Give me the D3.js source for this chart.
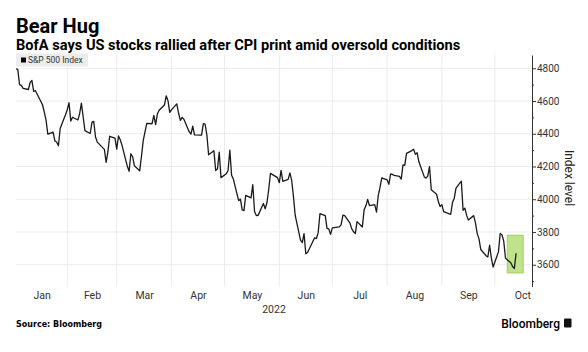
<!DOCTYPE html>
<html>
<head>
<meta charset="utf-8">
<script src="https://cdn.jsdelivr.net/npm/d3@7"></script>
<style>
  body { margin: 0; background: #fff; }
  svg { display: block; font-family: Roboto, "Open Sans", sans-serif; }
</style>
</head>
<body>
<div id="chart"></div>
<script>
// S&P 500 daily closes, 2022
const dates = [
  "2022-01-03","2022-01-04","2022-01-05","2022-01-06","2022-01-07","2022-01-10","2022-01-11","2022-01-12","2022-01-13","2022-01-14",
  "2022-01-18","2022-01-19","2022-01-20","2022-01-21","2022-01-24","2022-01-25","2022-01-26","2022-01-27","2022-01-28","2022-01-31",
  "2022-02-01","2022-02-02","2022-02-03","2022-02-04","2022-02-07","2022-02-08","2022-02-09","2022-02-10","2022-02-11","2022-02-14",
  "2022-02-15","2022-02-16","2022-02-17","2022-02-18","2022-02-22","2022-02-23","2022-02-24","2022-02-25","2022-02-28",
  "2022-03-01","2022-03-02","2022-03-03","2022-03-04","2022-03-07","2022-03-08","2022-03-09","2022-03-10","2022-03-11","2022-03-14",
  "2022-03-15","2022-03-16","2022-03-17","2022-03-18","2022-03-21","2022-03-22","2022-03-23","2022-03-24","2022-03-25","2022-03-28",
  "2022-03-29","2022-03-30","2022-03-31",
  "2022-04-01","2022-04-04","2022-04-05","2022-04-06","2022-04-07","2022-04-08","2022-04-11","2022-04-12","2022-04-13","2022-04-14",
  "2022-04-18","2022-04-19","2022-04-20","2022-04-21","2022-04-22","2022-04-25","2022-04-26","2022-04-27","2022-04-28","2022-04-29",
  "2022-05-02","2022-05-03","2022-05-04","2022-05-05","2022-05-06","2022-05-09","2022-05-10","2022-05-11","2022-05-12","2022-05-13",
  "2022-05-16","2022-05-17","2022-05-18","2022-05-19","2022-05-20","2022-05-23","2022-05-24","2022-05-25","2022-05-26","2022-05-27",
  "2022-05-31",
  "2022-06-01","2022-06-02","2022-06-03","2022-06-06","2022-06-07","2022-06-08","2022-06-09","2022-06-10","2022-06-13","2022-06-14",
  "2022-06-15","2022-06-16","2022-06-17","2022-06-21","2022-06-22","2022-06-23","2022-06-24","2022-06-27","2022-06-28","2022-06-29",
  "2022-06-30",
  "2022-07-01","2022-07-05","2022-07-06","2022-07-07","2022-07-08","2022-07-11","2022-07-12","2022-07-13","2022-07-14","2022-07-15",
  "2022-07-18","2022-07-19","2022-07-20","2022-07-21","2022-07-22","2022-07-25","2022-07-26","2022-07-27","2022-07-28","2022-07-29",
  "2022-08-01","2022-08-02","2022-08-03","2022-08-04","2022-08-05","2022-08-08","2022-08-09","2022-08-10","2022-08-11","2022-08-12",
  "2022-08-15","2022-08-16","2022-08-17","2022-08-18","2022-08-19","2022-08-22","2022-08-23","2022-08-24","2022-08-25","2022-08-26",
  "2022-08-29","2022-08-30","2022-08-31",
  "2022-09-01","2022-09-02","2022-09-06","2022-09-07","2022-09-08","2022-09-09","2022-09-12","2022-09-13","2022-09-14","2022-09-15",
  "2022-09-16","2022-09-19","2022-09-20","2022-09-21","2022-09-22","2022-09-23","2022-09-26","2022-09-27","2022-09-28","2022-09-29",
  "2022-09-30",
  "2022-10-03","2022-10-04","2022-10-05","2022-10-06","2022-10-07","2022-10-10","2022-10-11","2022-10-12","2022-10-13"
];
const closes = [
  4796.56,4793.54,4700.58,4696.05,4677.03,4670.29,4713.07,4726.35,4659.03,4662.85,
  4577.11,4532.76,4482.73,4397.94,4410.13,4356.45,4349.93,4326.51,4431.85,4515.55,
  4546.54,4589.38,4477.44,4500.53,4483.87,4521.54,4587.18,4504.08,4418.64,4401.67,
  4471.07,4475.01,4380.26,4348.87,4304.76,4225.50,4288.70,4384.65,4373.94,
  4306.26,4386.54,4363.49,4328.87,4201.09,4170.70,4277.88,4259.52,4204.31,4173.11,
  4262.45,4357.86,4411.67,4463.12,4461.18,4511.61,4456.24,4520.16,4543.06,4575.52,
  4631.60,4602.45,4530.41,
  4545.86,4582.64,4525.12,4481.15,4500.21,4488.28,4412.53,4397.45,4446.59,4392.59,
  4391.69,4462.21,4459.45,4393.66,4271.78,4296.12,4175.20,4183.96,4287.50,4131.93,
  4155.38,4175.48,4300.17,4146.87,4123.34,3991.24,4001.05,3935.18,3930.08,4023.89,
  4008.01,4088.85,3923.68,3900.79,3901.36,3973.75,3941.48,3978.73,4057.84,4158.24,
  4132.15,
  4101.23,4176.82,4108.54,4121.43,4160.68,4115.77,4017.82,3900.86,3749.63,3735.48,
  3789.99,3666.77,3674.84,3764.79,3759.89,3795.73,3911.74,3900.11,3821.55,3818.83,
  3785.38,
  3825.33,3831.39,3845.08,3902.62,3899.38,3854.43,3818.80,3801.78,3790.38,3863.16,
  3830.85,3936.69,3959.90,3998.95,3961.63,3966.84,3921.05,4023.61,4072.43,4130.29,
  4118.63,4091.19,4155.17,4151.94,4145.19,4140.06,4122.47,4210.24,4207.27,4280.15,
  4297.14,4305.20,4274.04,4283.74,4228.48,4137.99,4128.73,4140.77,4199.12,4057.66,
  4030.61,3986.16,3955.00,
  3966.85,3924.26,3908.19,3979.87,4006.18,4067.36,4110.41,3932.69,3946.01,3901.35,
  3873.33,3899.89,3855.93,3789.93,3757.99,3693.23,3655.04,3647.29,3719.04,3640.47,
  3585.62,
  3678.43,3790.93,3783.28,3744.52,3639.66,3612.39,3588.84,3577.03,3669.91
];
const yTicks = [3600, 3800, 4000, 4200, 4400, 4600, 4800];
const xDomain = ["2022-01-03", "2022-10-22"];
const yDomain = [3467, 4881];
// highlighted CPI window
const highlightDates = ["2022-10-08", "2022-10-17"];
const highlightLevels = [3550, 3780];

const width = 588, height = 352;
const plot = { left: 16, right: 532, top: 55, bottom: 286.5 };
const parse = d3.utcParse("%Y-%m-%d");
const series = dates.map((d, i) => ({ date: parse(d), value: closes[i] }));

const x = d3.scaleUtc().domain(xDomain.map(parse)).range([plot.left, plot.right]);
const y = d3.scaleLinear().domain(yDomain).range([plot.bottom, plot.top]);

const svg = d3.select("#chart").append("svg")
    .attr("width", width)
    .attr("height", height);

// title + subtitle
svg.append("text")
    .attr("x", 16).attr("y", 33)
    .style("font-size", "20px").style("font-weight", "bold")
    .attr("fill", "#000")
    .text("Bear Hug");
svg.append("text")
    .attr("x", 16).attr("y", 50)
    .style("font-size", "14.6px").style("font-weight", "bold")
    .attr("fill", "#000")
    .text("BofA says US stocks rallied after CPI print amid oversold conditions");

// grid
const monthStarts = d3.utcMonth.range(parse("2022-02-01"), parse("2022-11-01"));
svg.append("g").selectAll("line")
    .data(monthStarts)
    .join("line")
    .attr("x1", d => x(d)).attr("x2", d => x(d))
    .attr("y1", plot.top).attr("y2", plot.bottom)
    .attr("stroke", "#ececec");
svg.append("g").selectAll("line")
    .data(yTicks)
    .join("line")
    .attr("x1", plot.left).attr("x2", plot.right)
    .attr("y1", d => y(d)).attr("y2", d => y(d))
    .attr("stroke", "#ececec");

// highlight box
svg.append("rect")
    .attr("x", x(parse(highlightDates[0])))
    .attr("y", y(highlightLevels[1]))
    .attr("width", x(parse(highlightDates[1])) - x(parse(highlightDates[0])))
    .attr("height", y(highlightLevels[0]) - y(highlightLevels[1]))
    .attr("fill", "#bfe38b")
    .attr("stroke", "#9fcf5e")
    .attr("stroke-width", 1);

// legend
svg.append("rect")
    .attr("x", 16).attr("y", 53.5).attr("width", 72).attr("height", 13)
    .attr("fill", "#ececec");
svg.append("rect")
    .attr("x", 21).attr("y", 57.5).attr("width", 5).attr("height", 5)
    .attr("fill", "#000");
svg.append("text")
    .attr("x", 28).attr("y", 60.3)
    .attr("dominant-baseline", "middle")
    .style("font-size", "8.5px")
    .attr("fill", "#333")
    .text("S&P 500 Index");

// line
const line = d3.line()
    .x(d => x(d.date))
    .y(d => y(d.value));
svg.append("path")
    .datum(series)
    .attr("fill", "none")
    .attr("stroke", "#1a1a1a")
    .attr("stroke-width", 1.3)
    .attr("stroke-linejoin", "round")
    .attr("d", line);

// right axis
const yAxis = svg.append("g")
    .attr("transform", `translate(${plot.right},0)`)
    .call(d3.axisRight(y).tickValues(yTicks).tickSize(4).tickSizeOuter(0).tickPadding(1).tickFormat(d3.format("d")));
yAxis.select(".domain").attr("stroke", "#333");
yAxis.selectAll(".tick line").attr("stroke", "#333");
yAxis.selectAll("text")
    .style("font-size", "10px")
    .style("font-family", "Roboto, sans-serif")
    .attr("fill", "#333");

svg.append("g")
    .attr("transform", `translate(${plot.right},0)`)
    .call(d3.axisRight(y).tickValues(d3.range(3500, 4900, 100).filter(v => !yTicks.includes(v)))
        .tickSize(2).tickFormat(""))
    .call(g => g.select(".domain").remove())
    .selectAll(".tick line").attr("stroke", "#333");

svg.append("text")
    .attr("transform", `translate(565,178) rotate(90)`)
    .attr("text-anchor", "middle")
    .style("font-size", "12px")
    .attr("fill", "#222")
    .text("Index level");

// bottom axis: month names centred in each month
const monthMids = d3.utcMonth.range(parse("2022-01-01"), parse("2022-11-01")).map(m => {
  const s = Math.max(m, x.domain()[0]);
  const e = d3.utcMonth.offset(m, 1);
  return new Date((+s + +e) / 2);
});
const xAxis = svg.append("g")
    .attr("transform", `translate(0,${plot.bottom})`)
    .call(d3.axisBottom(x).tickValues(monthMids).tickSize(0).tickPadding(5).tickFormat(d3.utcFormat("%b")));
xAxis.select(".domain").remove();
xAxis.selectAll("text")
    .style("font-size", "10.5px")
    .style("font-family", "Roboto, sans-serif")
    .attr("fill", "#333");

svg.append("text")
    .attr("x", (plot.left + plot.right) / 2).attr("y", 313)
    .attr("text-anchor", "middle")
    .style("font-size", "10.5px")
    .attr("fill", "#333")
    .text("2022");

// footer
svg.append("text")
    .attr("x", 16).attr("y", 327)
    .style("font-family", "'DejaVu Sans', sans-serif")
    .style("font-size", "8px").style("font-weight", "bold")
    .attr("fill", "#000")
    .text("Source: Bloomberg");
svg.append("text")
    .attr("x", 560).attr("y", 328)
    .attr("text-anchor", "end")
    .style("font-size", "12px").style("font-weight", 500)
    .attr("fill", "#000")
    .text("Bloomberg");
svg.append("rect")
    .attr("x", 564).attr("y", 318.5).attr("width", 7.5).attr("height", 9)
    .attr("rx", 1)
    .attr("fill", "#111");
</script>
</body>
</html>
